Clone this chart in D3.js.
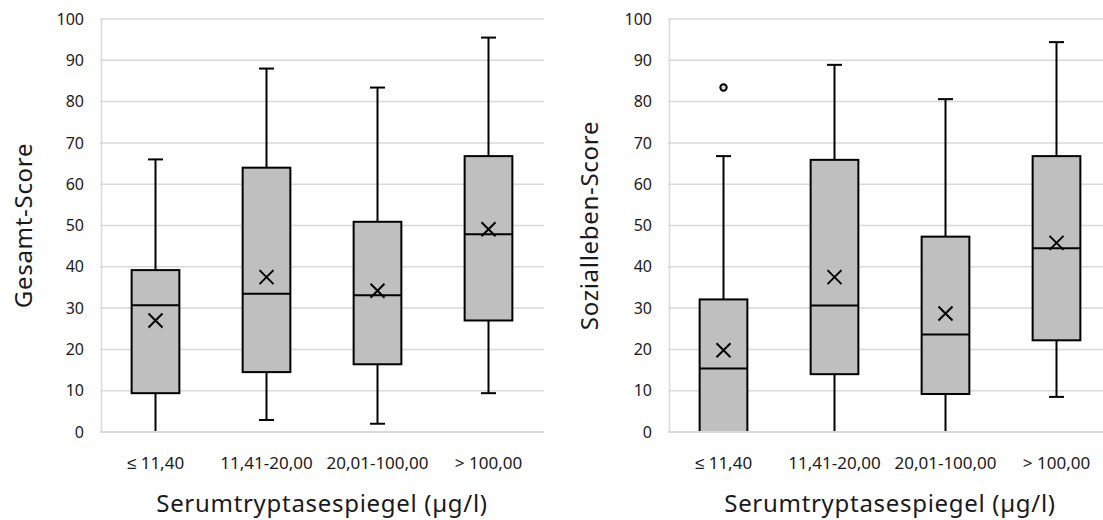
<!DOCTYPE html>
<html>
<head>
<meta charset="utf-8">
<script src="https://cdn.jsdelivr.net/npm/d3@7"></script>
<style>
  html, body { margin: 0; padding: 0; background: #fff; }
  svg { display: block; }
  text { font-family: "Noto Sans", sans-serif; fill: #1a1a1a; }
</style>
</head>
<body>
<svg id="chart" width="1103" height="520"></svg>
<script>
// Serum tryptase groups
const categories = ["≤ 11,40", "11,41-20,00", "20,01-100,00", "> 100,00"];
const yTicks = [0, 10, 20, 30, 40, 50, 60, 70, 80, 90, 100];

// Gesamt-Score: five-number summaries and means per group
const gesamtMin    = [0, 2.9, 2.0, 9.4];
const gesamtQ1     = [9.4, 14.5, 16.4, 27.0];
const gesamtMedian = [30.7, 33.5, 33.1, 47.9];
const gesamtQ3     = [39.2, 64.0, 50.9, 66.8];
const gesamtMax    = [66.0, 88.0, 83.4, 95.5];
const gesamtMean   = [27.0, 37.5, 34.2, 49.1];
const gesamtOutliers = [[], [], [], []];

// Sozialleben-Score
const sozialMin    = [0, 0, 0, 8.5];
const sozialQ1     = [0, 14.0, 9.2, 22.2];
const sozialMedian = [15.4, 30.6, 23.6, 44.5];
const sozialQ3     = [32.1, 65.9, 47.3, 66.8];
const sozialMax    = [66.8, 88.9, 80.6, 94.4];
const sozialMean   = [19.8, 37.5, 28.7, 45.8];
const sozialOutliers = [[83.4], [], [], []];

const xTitle = "Serumtryptasespiegel (µg/l)";

const svg = d3.select("#chart");

function drawPanel(opts) {
  const { x0, x1, yTitle, yTitleX, mins, q1, med, q3, maxs, means, outliers } = opts;
  const top = 19, bottom = 432;
  const g = svg.append("g");

  const x = d3.scaleBand().domain(categories).range([x0, x1]);
  const y = d3.scaleLinear().domain([0, 100]).range([bottom, top]);
  const boxW = x.bandwidth() * 0.43;
  const capW = 15;

  // horizontal gridlines
  g.append("g").selectAll("line").data(yTicks.filter(d => d > 0)).join("line")
    .attr("x1", x0).attr("x2", x1)
    .attr("y1", d => y(d)).attr("y2", d => y(d))
    .attr("stroke", "#d9d9d9").attr("stroke-width", 1.5);

  // vertical axis line
  g.append("line")
    .attr("x1", x0 + 1.5).attr("x2", x0 + 1.5)
    .attr("y1", y(100)).attr("y2", y(0))
    .attr("stroke", "#d9d9d9").attr("stroke-width", 1.5);

  // y tick labels
  const yAxis = d3.axisLeft(y).tickValues(yTicks).tickSize(0).tickPadding(16);
  const ya = g.append("g").attr("transform", `translate(${x0},0)`).call(yAxis);
  ya.select(".domain").remove();
  ya.selectAll("text").style("font-size", "16px").attr("fill", "#1a1a1a")
    .style("font-family", "'Noto Sans', sans-serif");

  const idx = d3.range(categories.length);
  const cx = i => x(categories[i]) + x.bandwidth() / 2;
  const stroke = "#000", sw = 2;

  const boxes = g.append("g").selectAll("g").data(idx).join("g");

  // whiskers
  boxes.append("line")
    .attr("x1", cx).attr("x2", cx)
    .attr("y1", i => y(q3[i])).attr("y2", i => y(maxs[i]))
    .attr("stroke", stroke).attr("stroke-width", sw);
  boxes.append("line")
    .attr("x1", cx).attr("x2", cx)
    .attr("y1", i => y(q1[i])).attr("y2", i => y(mins[i]))
    .attr("stroke", stroke).attr("stroke-width", sw);
  // caps
  boxes.append("line")
    .attr("x1", i => cx(i) - capW / 2).attr("x2", i => cx(i) + capW / 2)
    .attr("y1", i => y(maxs[i])).attr("y2", i => y(maxs[i]))
    .attr("stroke", stroke).attr("stroke-width", sw);
  boxes.append("line")
    .attr("x1", i => cx(i) - capW / 2).attr("x2", i => cx(i) + capW / 2)
    .attr("y1", i => y(mins[i])).attr("y2", i => y(mins[i]))
    .attr("stroke", stroke).attr("stroke-width", sw);

  // boxes
  boxes.append("rect")
    .attr("x", i => cx(i) - boxW / 2).attr("width", boxW)
    .attr("y", i => y(q3[i])).attr("height", i => y(q1[i]) - y(q3[i]))
    .attr("fill", "#bfbfbf").attr("stroke", stroke).attr("stroke-width", sw);

  // medians
  boxes.append("line")
    .attr("x1", i => cx(i) - boxW / 2).attr("x2", i => cx(i) + boxW / 2)
    .attr("y1", i => y(med[i])).attr("y2", i => y(med[i]))
    .attr("stroke", stroke).attr("stroke-width", sw);

  // mean markers (x)
  const m = 7;
  boxes.append("path")
    .attr("d", i => {
      const px = cx(i), py = y(means[i]);
      return `M${px - m},${py - m}L${px + m},${py + m}M${px - m},${py + m}L${px + m},${py - m}`;
    })
    .attr("fill", "none").attr("stroke", stroke).attr("stroke-width", sw);

  // outliers
  const outPts = idx.flatMap(i => outliers[i].map(v => ({ i, v })));
  g.append("g").selectAll("circle").data(outPts).join("circle")
    .attr("cx", d => cx(d.i)).attr("cy", d => y(d.v)).attr("r", 3.2)
    .attr("fill", "#d9d9d9").attr("stroke", stroke).attr("stroke-width", 2);

  // baseline axis drawn over the marks
  g.append("line")
    .attr("x1", x0).attr("x2", x1)
    .attr("y1", y(0)).attr("y2", y(0))
    .attr("stroke", "#d9d9d9").attr("stroke-width", 2);

  // category labels
  const xAxis = d3.axisBottom(x).tickSize(0).tickPadding(25);
  const xa = g.append("g").attr("transform", `translate(0,${bottom})`).call(xAxis);
  xa.select(".domain").remove();
  xa.selectAll("text").style("font-size", "17px").attr("fill", "#1a1a1a")
    .style("font-family", "'Noto Sans', sans-serif");

  // axis titles
  g.append("text")
    .attr("x", (x0 + x1) / 2).attr("y", 512)
    .attr("text-anchor", "middle")
    .style("font-size", "24px").style("letter-spacing", "0.7px")
    .text(xTitle);

  g.append("text")
    .attr("transform", `translate(${yTitleX},${(top + bottom) / 2}) rotate(-90)`)
    .attr("text-anchor", "middle")
    .style("font-size", "24px").style("letter-spacing", "0.7px")
    .text(yTitle);
}

drawPanel({
  x0: 100, x1: 544, yTitle: "Gesamt-Score", yTitleX: 32,
  mins: gesamtMin, q1: gesamtQ1, med: gesamtMedian, q3: gesamtQ3,
  maxs: gesamtMax, means: gesamtMean, outliers: gesamtOutliers
});

drawPanel({
  x0: 668, x1: 1112, yTitle: "Sozialleben-Score", yTitleX: 598,
  mins: sozialMin, q1: sozialQ1, med: sozialMedian, q3: sozialQ3,
  maxs: sozialMax, means: sozialMean, outliers: sozialOutliers
});
</script>
</body>
</html>
